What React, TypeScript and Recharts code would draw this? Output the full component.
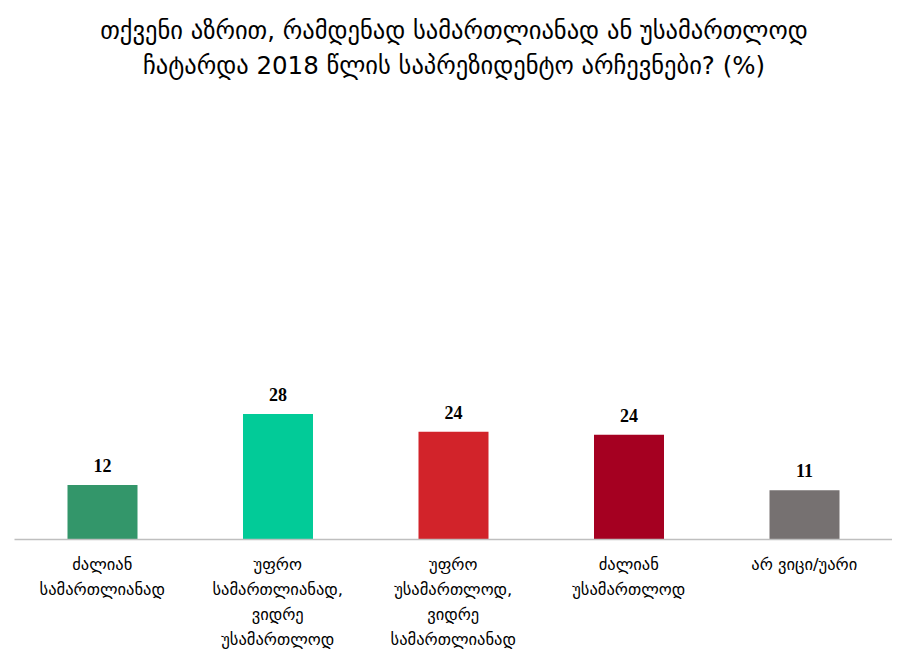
import React from "react";
import { BarChart, Bar, XAxis, YAxis, Cell, LabelList } from "recharts";

const titleLines = [
  "თქვენი აზრით, რამდენად სამართლიანად ან უსამართლოდ",
  "ჩატარდა 2018 წლის საპრეზიდენტო არჩევნები? (%)",
];

const categories = [
  "ძალიან სამართლიანად",
  "უფრო სამართლიანად, ვიდრე უსამართლოდ",
  "უფრო უსამართლოდ, ვიდრე სამართლიანად",
  "ძალიან უსამართლოდ",
  "არ ვიცი/უარი",
];

const categoryLines = [
  ["ძალიან", "სამართლიანად"],
  ["უფრო", "სამართლიანად,", "ვიდრე", "უსამართლოდ"],
  ["უფრო", "უსამართლოდ,", "ვიდრე", "სამართლიანად"],
  ["ძალიან", "უსამართლოდ"],
  ["არ ვიცი/უარი"],
];

const values = [12, 27.6, 23.7, 23.0, 10.8];
const valueLabels = ["12", "28", "24", "24", "11"];
const colors = ["#33966A", "#02CB98", "#D2232A", "#A50021", "#767171"];

const data = categories.map((c, i) => ({
  name: c,
  value: values[i],
  label: valueLabels[i],
  idx: i,
}));

const GEO_FONT = "'DejaVu Sans', sans-serif";

const CategoryTick = (props: any) => {
  const { x, y, payload } = props;
  const lines = categoryLines[payload.index] || [payload.value];
  return (
    <text
      x={x}
      y={y}
      textAnchor="middle"
      fontFamily={GEO_FONT}
      fontSize={16.5}
      fill="#000"
    >
      {lines.map((l: string, i: number) => (
        <tspan key={i} x={x} y={y + 22 + i * 25}>
          {l}
        </tspan>
      ))}
    </text>
  );
};

export default function App() {
  return (
    <div style={{ position: "relative", width: 892, height: 652 }}>
      <div
        style={{
          position: "absolute",
          left: 0,
          top: 5,
          width: 892,
          textAlign: "center",
          fontFamily: GEO_FONT,
          fontSize: 24.5,
          lineHeight: "35px",
          color: "#000",
        }}
      >
        {titleLines.map((t, i) => (
          <div key={i}>{t}</div>
        ))}
      </div>
      <BarChart
        width={892}
        height={652}
        data={data}
        margin={{ top: 395, right: 8, left: 6.5, bottom: 10.5 }}
      >
        <XAxis
          dataKey="name"
          height={110}
          interval={0}
          tickLine={false}
          axisLine={{ stroke: "#BFBFBF", strokeWidth: 1.5 }}
          tick={<CategoryTick />}
        />
        <YAxis hide domain={[0, 30]} />
        <Bar dataKey="value" barSize={70} isAnimationActive={false}>
          {data.map((d, i) => (
            <Cell key={i} fill={colors[i]} />
          ))}
          <LabelList
            dataKey="label"
            position="top"
            offset={13}
            fill="#000"
            fontFamily="'Liberation Serif', serif"
            fontWeight="bold"
            fontSize={18}
          />
        </Bar>
      </BarChart>
    </div>
  );
}
